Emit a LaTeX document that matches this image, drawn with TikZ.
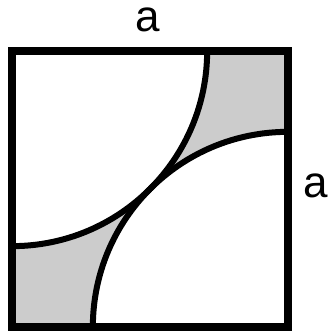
\documentclass[tikz,border=0pt]{standalone}
\usepackage{fontspec}
\setmainfont{Liberation Sans}
\usetikzlibrary{calc}

\begin{document}
\begin{tikzpicture}[
    x=1pt, y=1pt,
    edge/.style={draw=black, line width=7.5pt},
    rim/.style={draw=black, line width=6pt},
    lbl/.style={font=\fontsize{44}{50}\selectfont, inner sep=0pt},
]
\useasboundingbox (0,0) rectangle (328,336);

% Corners of the square
\coordinate (sw) at (12,9);
\coordinate (ne) at (288,285);
\coordinate (nw) at (12,285);
\coordinate (se) at (288,9);
\def\rad{195.16}

% Shaded square, then the two quarter discs in white
\fill[black!20] (sw) rectangle (ne);
\fill[white] (nw) -- ++(\rad,0) arc[start angle=0, end angle=-90, radius=\rad] -- cycle;
\fill[white] (se) -- ++(-\rad,0) arc[start angle=180, end angle=90, radius=\rad] -- cycle;

% Arcs
\draw[rim] ($(nw)+(\rad,0)$) arc[start angle=0, end angle=-90, radius=\rad];
\draw[rim] ($(se)+(-\rad,0)$) arc[start angle=180, end angle=90, radius=\rad];

% Square
\draw[edge] (sw) rectangle (ne);

% Side labels
\node[lbl] (top) at (148,316) {a};
\node[lbl] (side) at (316,150) {a};

\end{tikzpicture}
\end{document}
